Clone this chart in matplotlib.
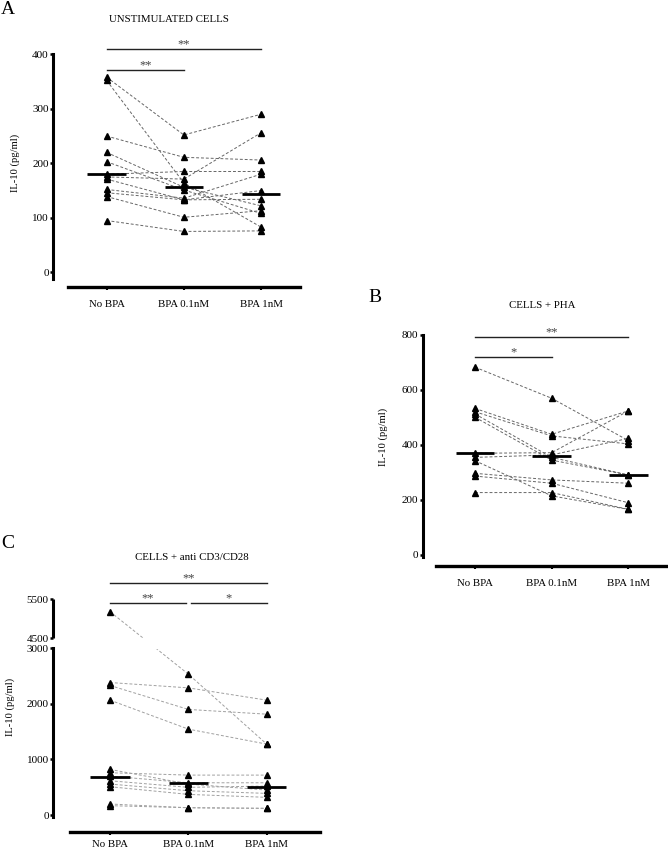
import numpy as np
import matplotlib
matplotlib.use("Agg")
import matplotlib.pyplot as plt
from matplotlib.ticker import NullLocator

plt.rcParams['font.family'] = ['Liberation Serif', 'DejaVu Serif']

categorias = ["No BPA", "BPA 0.1nM", "BPA 1nM"]

# ============================================================
# Datos (IL-10 en pg/ml, un valor por donante)
# ============================================================
# Panel A - celulas sin estimular
a_no_bpa = [358, 352, 250, 220, 203, 180, 175, 171, 152, 146, 139, 95]
a_bpa01 = [252, 164, 211, 156, 151, 185, 171, 133, 136, 133, 101, 75]
a_bpa1 = [290, 83, 206, 122, 108, 185, 256, 150, 180, 134, 113, 76]
a_medianas = [180, 157, 143]

# Panel B - celulas + PHA
b_no_bpa = [683, 533, 521, 513, 501, 370, 355, 343, 297, 287, 227]
b_bpa01 = [570, 439, 433, 355, 345, 372, 364, 215, 273, 261, 227]
b_bpa1 = [416, 524, 404, 291, 291, 524, 424, 166, 261, 190, 166]
b_medianas = [370, 360, 290]

# Panel C - celulas + anti CD3/CD28
c_no_bpa = [5182, 2383, 2330, 2066, 820, 760, 700, 616, 557, 509, 198, 168]
c_bpa01 = [2533, 2287, 1899, 1545, 557, 718, 580, 498, 437, 371, 131, 131]
c_bpa1 = [1275, 2066, 1814, 1275, 449, 718, 580, 521, 389, 318, 120, 120]
c_medianas = [690, 580, 510]

W, H = 668, 849
fig = plt.figure(figsize=(W / 100, H / 100), dpi=100)


def ejes_px(left, top, right, bottom):
    # crea ejes a partir de coordenadas en pixeles de la imagen
    return fig.add_axes([left / W, 1 - bottom / H, (right - left) / W, (bottom - top) / H])


def texto_px(x, y, s, **kw):
    fig.text(x / W, 1 - y / H, s, ha='center', va='center', **kw)


def dibujar_panel(ax, series, medianas, color_linea, offset_izq, barras, pad_x):
    x = np.arange(len(series))
    # lineas por donante
    for vals in zip(*series):
        ax.plot(x, vals, ls=(0, (3, 2)), color=color_linea, lw=0.7, zorder=2)
    # puntos
    for i, s in enumerate(series):
        ax.plot(np.full(len(s), i), s, marker='^', ls='none', color='black',
                ms=4.6, zorder=4)
    # medianas
    for i, m in enumerate(medianas):
        ax.plot([i - 0.25, i + 0.25], [m, m], color='black', lw=2,
                solid_capstyle='butt', zorder=5)
    # barras de significancia
    for x0, x1, yb, txt in barras:
        ax.plot([x0, x1], [yb, yb], color='#222222', lw=1, clip_on=False, zorder=5)
        ax.annotate(txt, xy=((x0 + x1) / 2, yb), xytext=(0, 1.2),
                    textcoords='offset points', ha='center', va='baseline',
                    fontsize=9, color='#444444', annotation_clip=False)

    ax.spines['top'].set_visible(False)
    ax.spines['right'].set_visible(False)
    ax.spines['left'].set_position(('outward', offset_izq))
    ax.spines['left'].set_linewidth(2.2)
    ax.spines['bottom'].set_linewidth(2.4)
    ax.set_xticks(x)
    ax.set_xticklabels(categorias)
    ax.tick_params(axis='x', length=2, width=1.5, pad=pad_x, labelsize=7.8)
    ax.tick_params(axis='y', length=2.5, width=1.8, pad=0.8, labelsize=8)
    ax.set_facecolor('none')


# ============================================================
# Panel A
# ============================================================
axA = ejes_px(68.3, 54.3, 300, 286.7)
dibujar_panel(axA, [a_no_bpa, a_bpa01, a_bpa1], a_medianas, '#666666', 10.8,
              [(0, 2, 410, '**'), (0, 1, 371, '**')], 7.5)
axA.set_xlim(-0.497, 2.505)
axA.set_ylim(-26.4, 400)
axA.set_yticks([0, 100, 200, 300, 400])
axA.spines['left'].set_bounds(-12, 400)
texto_px(8, 10, 'A', fontsize=14)
texto_px(169, 20, 'UNSTIMULATED CELLS', fontsize=7.8)
texto_px(15, 163, 'IL-10 (pg/ml)', fontsize=7.6, rotation=90)

# ============================================================
# Panel B
# ============================================================
axB = ejes_px(436, 335, 666.7, 566)
dibujar_panel(axB, [b_no_bpa, b_bpa01, b_bpa1], b_medianas, '#666666', 9.6,
              [(0, 2, 794, '**'), (0, 1, 719, '*')], 7.5)
axB.set_xlim(-0.508, 2.5)
axB.set_ylim(-40, 800)
axB.set_yticks([0, 200, 400, 600, 800])
axB.spines['left'].set_bounds(-8, 800)
texto_px(375, 298, 'B', fontsize=14)
texto_px(542, 306, 'CELLS + PHA', fontsize=7.8)
texto_px(383, 437, 'IL-10 (pg/ml)', fontsize=7.6, rotation=90)

# ============================================================
# Panel C - eje Y cortado (0-3000 y 4500-5500)
# ============================================================


def corte_fwd(v):
    v = np.asarray(v, dtype=float)
    return np.where(v <= 3000, v,
                    np.where(v >= 4500, 3180 + (v - 4500) * 0.70,
                             3000 + (v - 3000) * 0.12))


def corte_inv(f):
    f = np.asarray(f, dtype=float)
    return np.where(f <= 3000, f,
                    np.where(f >= 3180, 4500 + (f - 3180) / 0.70,
                             3000 + (f - 3000) / 0.12))


axC = ejes_px(70, 599.3, 320, 831.7)
axC.set_yscale('function', functions=(corte_fwd, corte_inv))
dibujar_panel(axC, [c_no_bpa, c_bpa01, c_bpa1], c_medianas, '#a0a0a0', 12,
              [(0, 2, 5910, '**'), (0, 0.97, 5397, '**'), (1.03, 2, 5397, '*')], 4)
axC.set_xlim(-0.511, 2.68)
axC.set_ylim(-300, 5500)
axC.set_yticks([0, 1000, 2000, 3000, 4500, 5500])
axC.set_yticklabels(['0', '1000', '2000', '3000', '4500', '5500'])
axC.yaxis.set_minor_locator(NullLocator())
axC.spines['left'].set_bounds(-30, 3000)
# tramo superior del eje y hueco del corte
axC.plot([0, 0], [4500, 5500], transform=axC.spines['left'].get_spine_transform(),
         color='black', lw=2.2, solid_capstyle='butt', clip_on=False)
axC.axhspan(3000, 4500, color='white', zorder=3)
texto_px(8, 543, 'C', fontsize=14)
texto_px(192, 558, 'CELLS + anti CD3/CD28', fontsize=7.8)
texto_px(10, 707, 'IL-10 (pg/ml)', fontsize=7.6, rotation=90)

fig.savefig("out.png", dpi=100)
